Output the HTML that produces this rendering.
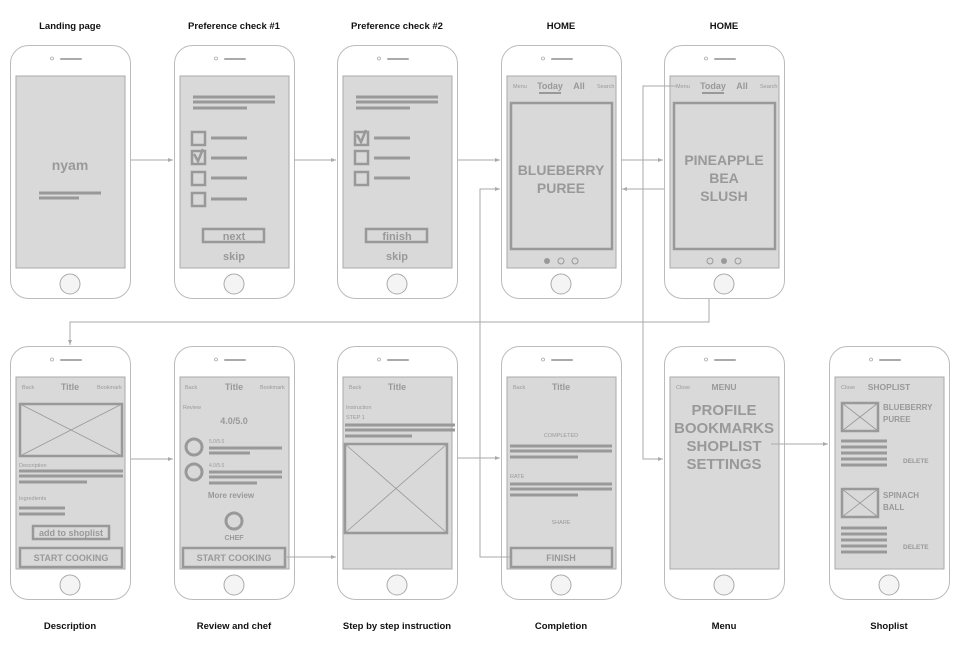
<!DOCTYPE html>
<html><head><meta charset="utf-8"><style>
html,body{margin:0;padding:0;background:#fff}
svg{display:block}
text{font-family:"Liberation Sans","Noto Sans CJK KR",sans-serif;fill:#999}
.lb{font-weight:bold;fill:#111;font-size:9.5px;text-anchor:middle}
.sm{font-size:5.5px}
.t{font-size:9px;font-weight:bold;text-anchor:middle}
.big{font-size:14px;font-weight:bold;text-anchor:middle;fill:#999}
.c{text-anchor:middle}
.b{font-weight:bold}
.ln{stroke:#999;stroke-width:3}
.fr{fill:none;stroke:#999;stroke-width:2.5}
.xl{stroke:#999;stroke-width:0.8}
.cn{fill:none;stroke:#aaa;stroke-width:1}
</style></head><body>
<svg width="960" height="652" viewBox="0 0 960 652" xmlns="http://www.w3.org/2000/svg">
<defs>
<g id="ph">
<rect x="0.5" y="0.5" width="120" height="253" rx="18" fill="#fff" stroke="#bbb"/>
<rect x="6" y="31" width="109" height="192" fill="#d9d9d9" stroke="#aaa"/>
<circle cx="42" cy="13.5" r="1.5" fill="none" stroke="#aaa" stroke-width="0.8"/>
<line x1="51" y1="14" x2="71" y2="14" stroke="#aaa" stroke-width="2" stroke-linecap="round"/>
<circle cx="60" cy="239" r="10" fill="#f4f4f4" stroke="#aaa"/>
</g>
<marker id="ar" markerWidth="6" markerHeight="6" refX="5" refY="3" orient="auto"><path d="M0,1 L5,3 L0,5 Z" fill="#aaa"/></marker>
</defs>

<text class="lb" x="70" y="29">Landing page</text>
<text class="lb" x="234" y="29">Preference check #1</text>
<text class="lb" x="397" y="29">Preference check #2</text>
<text class="lb" x="561" y="29">HOME</text>
<text class="lb" x="724" y="29">HOME</text>
<text class="lb" x="70" y="629">Description</text>
<text class="lb" x="234" y="629">Review and chef</text>
<text class="lb" x="397" y="629">Step by step instruction</text>
<text class="lb" x="561" y="629">Completion</text>
<text class="lb" x="724" y="629">Menu</text>
<text class="lb" x="889" y="629">Shoplist</text>

<g transform="translate(10,45)"><use href="#ph"/>
<text class="c b" x="60" y="125" style="font-size:14px">nyam</text>
<line class="ln" x1="29" y1="148" x2="91" y2="148"/><line class="ln" x1="29" y1="153" x2="69" y2="153"/>
</g>

<g transform="translate(174,45)"><use href="#ph"/>
<line class="ln" x1="19" y1="52" x2="101" y2="52"/><line class="ln" x1="19" y1="57" x2="101" y2="57"/><line class="ln" x1="19" y1="63" x2="73" y2="63"/>
<rect class="fr" x="18" y="87" width="13" height="13"/><line class="ln" x1="37" y1="93" x2="73" y2="93"/>
<rect class="fr" x="18" y="106" width="13" height="13"/><line class="ln" x1="37" y1="113" x2="73" y2="113"/>
<path d="M20,109 L24,116 L29,104" fill="none" stroke="#999" stroke-width="2.5"/>
<rect class="fr" x="18" y="127" width="13" height="13"/><line class="ln" x1="37" y1="133" x2="73" y2="133"/>
<rect class="fr" x="18" y="148" width="13" height="13"/><line class="ln" x1="37" y1="154" x2="73" y2="154"/>
<rect class="fr" x="29" y="184" width="61" height="13"/>
<text class="c b" x="60" y="195" style="font-size:11px">next</text>
<text class="c b" x="60" y="215" style="font-size:11px">skip</text>
</g>

<g transform="translate(337,45)"><use href="#ph"/>
<line class="ln" x1="19" y1="52" x2="101" y2="52"/><line class="ln" x1="19" y1="57" x2="101" y2="57"/><line class="ln" x1="19" y1="63" x2="73" y2="63"/>
<rect class="fr" x="18" y="87" width="13" height="13"/><line class="ln" x1="37" y1="93" x2="73" y2="93"/>
<path d="M20,90 L24,97 L29,85" fill="none" stroke="#999" stroke-width="2.5"/>
<rect class="fr" x="18" y="106" width="13" height="13"/><line class="ln" x1="37" y1="113" x2="73" y2="113"/>
<rect class="fr" x="18" y="127" width="13" height="13"/><line class="ln" x1="37" y1="133" x2="73" y2="133"/>
<rect class="fr" x="29" y="184" width="61" height="13"/>
<text class="c b" x="60" y="195" style="font-size:11px">finish</text>
<text class="c b" x="60" y="215" style="font-size:11px">skip</text>
</g>

<g transform="translate(501,45)"><use href="#ph"/>
<text class="sm" x="12" y="43">Menu</text>
<text class="c b" x="49" y="44" style="font-size:9px">Today</text>
<line x1="38" y1="48" x2="60" y2="48" stroke="#999" stroke-width="2"/>
<text class="c b" x="78" y="44" style="font-size:9px">All</text>
<text class="sm" x="96" y="43">Search</text>
<rect class="fr" x="10" y="58" width="101" height="146"/>
<text class="big" x="60" y="130">BLUEBERRY</text>
<text class="big" x="60" y="148">PUREE</text>
<circle cx="46" cy="216" r="3" fill="#999"/><circle cx="60" cy="216" r="3" fill="none" stroke="#999"/><circle cx="74" cy="216" r="3" fill="none" stroke="#999"/>
</g>

<g transform="translate(664,45)"><use href="#ph"/>
<text class="sm" x="12" y="43">Menu</text>
<text class="c b" x="49" y="44" style="font-size:9px">Today</text>
<line x1="38" y1="48" x2="60" y2="48" stroke="#999" stroke-width="2"/>
<text class="c b" x="78" y="44" style="font-size:9px">All</text>
<text class="sm" x="96" y="43">Search</text>
<rect class="fr" x="10" y="58" width="101" height="146"/>
<text class="big" x="60" y="120">PINEAPPLE</text>
<text class="big" x="60" y="138">BEA</text>
<text class="big" x="60" y="156">SLUSH</text>
<circle cx="46" cy="216" r="3" fill="none" stroke="#999"/><circle cx="60" cy="216" r="3" fill="#999"/><circle cx="74" cy="216" r="3" fill="none" stroke="#999"/>
</g>

<g transform="translate(10,346)"><use href="#ph"/>
<text class="sm" x="12" y="43">Back</text>
<text class="t" x="60" y="44">Title</text>
<text class="sm" x="87" y="43">Bookmark</text>
<rect class="fr" x="10" y="58" width="102" height="52"/>
<line class="xl" x1="10" y1="58" x2="112" y2="110"/><line class="xl" x1="112" y1="58" x2="10" y2="110"/>
<text class="sm" x="9" y="121">Description</text>
<line class="ln" x1="9" y1="125" x2="113" y2="125"/><line class="ln" x1="9" y1="130" x2="113" y2="130"/><line class="ln" x1="9" y1="136" x2="77" y2="136"/>
<text class="sm" x="9" y="154">Ingredients</text>
<line class="ln" x1="9" y1="162" x2="55" y2="162"/><line class="ln" x1="9" y1="168" x2="55" y2="168"/>
<rect class="fr" x="23" y="180" width="76" height="13"/>
<text class="c b" x="61" y="190" style="font-size:9px">add to shoplist</text>
<rect class="fr" x="10" y="202" width="102" height="19"/>
<text class="c b" x="61" y="215" style="font-size:9px">START COOKING</text>
</g>

<g transform="translate(174,346)"><use href="#ph"/>
<text class="sm" x="11" y="43">Back</text>
<text class="t" x="60" y="44">Title</text>
<text class="sm" x="86" y="43">Bookmark</text>
<text class="sm" x="9" y="63">Review</text>
<text class="c" x="60" y="78" style="font-size:9px;font-weight:bold">4.0/5.0</text>
<circle cx="20" cy="101" r="8" fill="none" stroke="#999" stroke-width="3"/>
<text x="35" y="97" style="font-size:5px">5.0/5.0</text>
<line class="ln" x1="35" y1="102" x2="108" y2="102"/><line class="ln" x1="35" y1="107" x2="76" y2="107"/>
<circle cx="20" cy="126" r="8" fill="none" stroke="#999" stroke-width="3"/>
<text x="35" y="121" style="font-size:5px">4.0/5.0</text>
<line class="ln" x1="35" y1="126" x2="108" y2="126"/><line class="ln" x1="35" y1="131" x2="108" y2="131"/><line class="ln" x1="35" y1="137" x2="83" y2="137"/>
<text class="c b" x="57" y="152" style="font-size:8px">More review</text>
<circle cx="60" cy="175" r="8" fill="none" stroke="#999" stroke-width="3"/>
<text class="c b" x="60" y="194" style="font-size:7px">CHEF</text>
<rect class="fr" x="9" y="202" width="102" height="19"/>
<text class="c b" x="60" y="215" style="font-size:9px">START COOKING</text>
</g>

<g transform="translate(337,346)"><use href="#ph"/>
<text class="sm" x="12" y="43">Back</text>
<text class="t" x="60" y="44">Title</text>
<text class="sm" x="9" y="63">Instruction</text>
<text class="sm" x="9" y="73">STEP 1</text>
<line class="ln" x1="8" y1="79" x2="118" y2="79"/><line class="ln" x1="8" y1="84" x2="118" y2="84"/><line class="ln" x1="8" y1="90" x2="75" y2="90"/>
<rect class="fr" x="8" y="98" width="102" height="89"/>
<line class="xl" x1="8" y1="98" x2="110" y2="187"/><line class="xl" x1="110" y1="98" x2="8" y2="187"/>
</g>

<g transform="translate(501,346)"><use href="#ph"/>
<text class="sm" x="12" y="43">Back</text>
<text class="t" x="60" y="44">Title</text>
<text class="sm c" x="60" y="91">COMPLETED</text>
<line class="ln" x1="9" y1="100" x2="111" y2="100"/><line class="ln" x1="9" y1="105" x2="111" y2="105"/><line class="ln" x1="9" y1="111" x2="77" y2="111"/>
<text class="sm" x="9" y="132">RATE</text>
<line class="ln" x1="9" y1="138" x2="111" y2="138"/><line class="ln" x1="9" y1="143" x2="111" y2="143"/><line class="ln" x1="9" y1="149" x2="77" y2="149"/>
<text class="sm c" x="60" y="178">SHARE</text>
<rect class="fr" x="10" y="202" width="101" height="19"/>
<text class="c b" x="60" y="215" style="font-size:9px">FINISH</text>
</g>

<g transform="translate(664,346)"><use href="#ph"/>
<text class="sm" x="12" y="43">Close</text>
<text class="c b" x="60" y="44" style="font-size:8.5px">MENU</text>
<text class="c" x="60" y="69" style="font-size:15px;font-weight:bold">PROFILE</text>
<text class="c" x="60" y="87" style="font-size:15px;font-weight:bold">BOOKMARKS</text>
<text class="c" x="60" y="105" style="font-size:15px;font-weight:bold">SHOPLIST</text>
<text class="c" x="60" y="123" style="font-size:15px;font-weight:bold">SETTINGS</text>
</g>

<g transform="translate(829,346)"><use href="#ph"/>
<text class="sm" x="12" y="43">Close</text>
<text class="c" x="60" y="44" style="font-size:8.5px;font-weight:bold">SHOPLIST</text>
<rect class="fr" x="13" y="57" width="36" height="28"/>
<line class="xl" x1="13" y1="57" x2="49" y2="85"/><line class="xl" x1="49" y1="57" x2="13" y2="85"/>
<text x="54" y="64" style="font-size:8px;font-weight:bold">BLUEBERRY</text>
<text x="54" y="76" style="font-size:8px;font-weight:bold">PUREE</text>
<line class="ln" x1="12" y1="95" x2="58" y2="95"/><line class="ln" x1="12" y1="101" x2="58" y2="101"/><line class="ln" x1="12" y1="107" x2="58" y2="107"/><line class="ln" x1="12" y1="113" x2="58" y2="113"/><line class="ln" x1="12" y1="119" x2="58" y2="119"/>
<text class="b" x="74" y="117" style="font-size:6.5px">DELETE</text>
<rect class="fr" x="13" y="143" width="36" height="28"/>
<line class="xl" x1="13" y1="143" x2="49" y2="171"/><line class="xl" x1="49" y1="143" x2="13" y2="171"/>
<text x="54" y="152" style="font-size:8px;font-weight:bold">SPINACH</text>
<text x="54" y="164" style="font-size:8px;font-weight:bold">BALL</text>
<line class="ln" x1="12" y1="182" x2="58" y2="182"/><line class="ln" x1="12" y1="188" x2="58" y2="188"/><line class="ln" x1="12" y1="194" x2="58" y2="194"/><line class="ln" x1="12" y1="200" x2="58" y2="200"/><line class="ln" x1="12" y1="206" x2="58" y2="206"/>
<text class="b" x="74" y="203" style="font-size:6.5px">DELETE</text>
</g>

<line class="cn" x1="131" y1="160" x2="173" y2="160" marker-end="url(#ar)"/>
<line class="cn" x1="294" y1="160" x2="336" y2="160" marker-end="url(#ar)"/>
<line class="cn" x1="458" y1="160" x2="500" y2="160" marker-end="url(#ar)"/>
<line class="cn" x1="621" y1="160" x2="663" y2="160" marker-end="url(#ar)"/>
<line class="cn" x1="664" y1="189" x2="622" y2="189" marker-end="url(#ar)"/>
<path class="cn" d="M510,557 H480 V189 H500" marker-end="url(#ar)"/>
<path class="cn" d="M676,86 H643 V459 H663" marker-end="url(#ar)"/>
<path class="cn" d="M709,299 V322 H70 V345" marker-end="url(#ar)"/>
<line class="cn" x1="131" y1="459" x2="173" y2="459" marker-end="url(#ar)"/>
<line class="cn" x1="285" y1="557" x2="336" y2="557" marker-end="url(#ar)"/>
<line class="cn" x1="458" y1="458" x2="500" y2="458" marker-end="url(#ar)"/>
<line class="cn" x1="771" y1="444" x2="828" y2="444" marker-end="url(#ar)"/>
</svg>
</body></html>
